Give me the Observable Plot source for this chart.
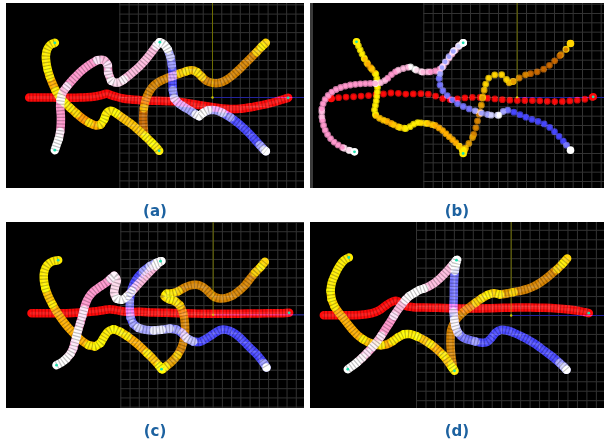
<!DOCTYPE html>
<html>
<head>
<meta charset="utf-8">
<script src="https://cdn.jsdelivr.net/npm/d3@7"></script>
<script src="https://cdn.jsdelivr.net/npm/@observablehq/plot@0.6"></script>
<style>
  html, body { margin: 0; padding: 0; background: #fff; }
  #fig { position: relative; width: 604px; height: 445px; overflow: hidden; }
  .panel { position: absolute; background: #000; box-sizing: content-box; }
  .panel svg { display: block; }
  .label { position: absolute; width: 120px; text-align: center; font: bold 15px "DejaVu Sans", sans-serif; line-height: 15px; color: #1d62a0; }
</style>
</head>
<body>
<div id="fig"></div>
<script>
// Trajectories in image-frame units (3 units per screen pixel), y pointing down.
// Each point is [x, y, t]; t is the highlight weight of the trail at that point.

const labels = ["(a)", "(b)", "(c)", "(d)"];

// ---- run (a)
const redA = [[68,282],[100,282],[140,282],[180,283],[220,282],[260,280],[285,275],[300,271],[320,277],[350,285],[400,290],[450,292],[500,293],[540,298],[580,305],[620,311],[660,316],[700,316],[740,310],[780,302],[810,294],[835,286],[845,283]];
const yellowA = [[145,118,1],[132,124,1],[122,138,1],[118,158,1],[120,180,1],[124,200,0.6],[130,220,0.3],[138,240,0.3],[148,262,0.5],[160,282,0.7],[175,298,0.4],[192,314,0.2],[210,330,0.1],[228,345,0.1],[248,358,0.2],[268,366,0.3],[283,363,0.6],[293,348,1],[300,330,1],[312,322,1],[330,330,0.6],[352,346,0.4],[375,362,0.4],[398,382,0.5],[418,400,0.7],[436,418,1],[450,432,1],[458,442,1]];
const pinkA = [[145,440,1],[150,425,1],[157,405,0.7],[161,385,0.3],[163,360,0.2],[163,335,0.2],[161,310,0.3],[162,290,0.6],[168,268,0.4],[182,248,0.3],[202,225,0.2],[225,202,0.2],[250,183,0.3],[272,170,0.4],[292,170,0.4],[304,185,0.3],[305,208,0.4],[314,232,0.8],[332,238,0.7],[352,228,0.5],[375,210,0.4],[398,190,0.4],[418,168,0.5],[436,145,0.6],[450,126,0.8],[460,116,1]];
const blueA = [[460,116,1],[472,122,0.9],[484,138,0.6],[492,160,0.3],[496,185,0.1],[498,210,0.1],[498,235,0.1],[499,260,0.2],[503,284,0.6],[515,298,0.6],[532,310,0.5],[552,322,0.4],[568,333,0.7],[578,338,1],[590,328,0.8],[605,320,0.5],[625,320,0.4],[648,328,0.2],[672,342,0.1],[696,360,0.1],[720,382,0.1],[742,405,0.1],[760,425,0.2],[772,438,0.6],[778,443,1]];
const orangeA = [[778,118,1],[765,130,0.6],[750,146,0.3],[732,164,0.2],[714,182,0.2],[696,200,0.2],[678,216,0.2],[658,230,0.2],[638,238,0.2],[618,238,0.2],[600,232,0.3],[586,220,0.4],[572,206,0.8],[558,200,0.7],[540,203,0.4],[520,210,0.3],[498,218,0.3],[476,226,0.3],[456,236,0.3],[440,248,0.3],[428,265,0.2],[418,288,0.2],[412,314,0.1],[410,340,0.1],[411,365,0.1],[413,390,0.1]];

// ---- run (b)
const redB = [[62,285],[80,283],[100,281],[125,280],[150,278],[175,276],[200,273],[225,271],[248,268],[268,270],[290,272],[318,271],[345,271],[370,276],[392,284],[412,288],[432,287],[455,284],[480,282],[510,282],[540,285],[570,288],[600,290],[630,291],[660,291],[690,292],[720,294],[750,294],[780,292],[810,289],[835,285],[848,280]];
const yellowB = [[138,115,1],[145,130,1],[153,148,0.9],[162,166,0.6],[172,182,0.3],[185,198,0.6],[196,212,0.9],[200,232,1],[201,255,1],[199,278,1],[196,300,1],[192,320,0.9],[196,336,0.6],[210,346,0.4],[230,354,0.3],[250,364,0.5],[268,372,0.8],[286,375,1],[302,368,1],[316,358,1],[332,358,0.8],[352,360,0.5],[374,366,0.3],[395,380,0.2],[412,396,0.2],[430,412,0.2],[446,428,0.5],[456,440,1],[458,450,1]];
const pinkB = [[132,445,1],[115,440,0.8],[96,432,0.3],[76,420,0.2],[60,405,0.2],[47,386,0.2],[39,365,0.3],[34,340,0.4],[34,316,0.3],[40,295,0.2],[52,277,0.2],[68,263,0.2],[88,253,0.2],[112,246,0.2],[140,242,0.2],[168,240,0.2],[195,240,0.5],[215,236,0.4],[232,224,0.3],[247,210,0.3],[264,200,0.4],[282,194,0.6],[300,190,1],[318,200,0.8],[337,206,0.4],[360,205,0.3],[383,200,0.3],[398,188,0.4],[410,172,0.4],[422,155,0.4],[436,138,0.5],[448,125,0.8],[458,118,1]];
const blueB = [[458,118,1],[444,128,0.8],[428,144,0.5],[413,163,0.4],[400,182,0.4],[390,203,0.4],[386,225,0.3],[389,246,0.3],[398,263,0.2],[412,278,0.3],[429,292,0.3],[448,304,0.3],[470,314,0.3],[494,322,0.4],[518,330,0.6],[542,335,0.8],[565,335,1],[578,324,0.6],[592,320,0.2],[610,326,0],[632,335,0],[656,345,0],[680,353,0],[704,363,0],[724,377,0],[740,393,0],[756,410,0],[768,425,0.3],[780,440,1]];
const orangeB = [[780,120,1],[766,138,0.3],[748,157,0.1],[728,176,0.1],[708,192,0.1],[688,202,0.1],[666,209,0.1],[645,214,0.2],[625,224,0.3],[608,234,0.6],[596,238,0.8],[588,228,1],[580,217,1],[568,212,1],[550,215,1],[536,222,1],[527,238,0.9],[521,260,0.7],[516,284,0.5],[512,308,0.4],[506,332,0.3],[500,356,0.3],[494,380,0.3],[486,402,0.4],[475,420,0.5],[465,434,0.7],[460,442,1]];

// ---- run (c)
const redC = [[75,272],[100,272],[140,272],[180,272],[220,270],[260,267],[290,263],[310,260],[330,263],[360,268],[400,268],[440,270],[480,271],[520,272],[560,273],[600,274],[640,274],[680,274],[720,273],[760,273],[800,272],[830,272],[848,271]];
const yellowC = [[155,113,1],[137,117,1],[122,128,1],[113,148,1],[112,172,1],[117,198,0.6],[126,222,0.4],[138,246,0.3],[152,270,0.3],[168,293,0.3],[186,316,0.2],[205,336,0.2],[225,354,0.3],[246,368,0.6],[266,372,0.8],[282,362,1],[293,343,1],[305,327,1],[322,320,0.8],[342,328,0.5],[362,341,0.3],[382,356,0.3],[402,373,0.3],[422,392,0.4],[442,412,0.6],[458,430,1],[465,440,1]];
const pinkC = [[150,428,1],[165,420,1],[180,408,0.8],[192,394,0.5],[200,378,0.3],[205,360,0.5],[210,342,0.8],[215,322,0.4],[221,302,0.3],[227,282,0.4],[232,262,0.3],[238,242,0.3],[248,222,0.3],[262,206,0.3],[280,193,0.3],[298,181,0.3],[312,169,0.5],[323,160,0.8],[331,172,0.8],[326,192,0.7],[323,212,0.8],[330,228,1],[346,232,0.9],[361,222,0.7],[376,207,0.6],[392,189,0.5],[410,169,0.5],[430,148,0.6],[448,130,0.8],[462,116,1]];
const blueC = [[465,116,1],[450,121,0.6],[430,131,0.2],[410,146,0.1],[393,165,0.1],[381,186,0.1],[373,210,0.1],[370,235,0.3],[370,260,0.3],[372,285,0.1],[380,304,0.2],[395,316,0.4],[418,322,0.5],[442,324,0.7],[465,322,0.4],[490,318,0.2],[510,321,0.1],[526,331,0.3],[541,347,0.5],[560,357,0.1],[580,358,0],[600,348,0],[620,335,0],[640,323,0],[660,322,0],[680,330,0],[700,345,0],[720,365,0],[740,385,0],[758,404,0],[772,422,0.3],[780,435,1]];
const orangeC = [[775,118,1],[762,134,0.6],[746,150,0.3],[730,170,0.2],[715,189,0.2],[698,205,0.2],[680,218,0.2],[660,226,0.2],[641,228,0.2],[625,224,0.2],[612,214,0.2],[599,201,0.2],[584,191,0.3],[568,187,0.3],[550,189,0.3],[533,196,0.3],[516,206,0.4],[498,212,0.8],[480,214,1],[474,222,1],[488,230,0.8],[506,236,0.4],[520,248,0.3],[529,268,0.2],[534,292,0.2],[536,320,0.3],[533,348,0.3],[526,374,0.3],[513,398,0.4],[495,418,0.5],[478,432,0.7],[468,440,1]];

// ---- run (d)
const redD = [[40,278],[70,278],[100,278],[130,278],[160,276],[185,272],[205,264],[222,252],[240,240],[256,235],[270,240],[285,250],[308,254],[340,255],[380,256],[420,257],[460,258],[500,258],[540,257],[580,256],[620,255],[660,255],[700,256],[740,258],[775,261],[805,265],[835,272]];
const yellowD = [[115,105,1],[100,114,1],[86,132,1],[74,155,1],[64,180,1],[60,205,0.7],[63,230,0.4],[72,252,0.3],[85,270,0.3],[98,287,0.3],[112,305,0.3],[126,322,0.3],[141,338,0.3],[157,350,0.4],[175,360,0.6],[193,366,0.4],[212,368,0.3],[230,365,0.3],[247,356,0.5],[263,344,0.8],[280,335,1],[300,335,0.9],[320,342,0.6],[340,352,0.4],[360,365,0.3],[380,381,0.3],[398,398,0.4],[413,418,0.6],[424,434,1],[432,445,1]];
const pinkD = [[112,440,1],[125,431,1],[140,419,0.7],[155,406,0.4],[170,391,0.3],[185,375,0.6],[199,358,0.4],[212,340,0.3],[225,320,0.3],[238,300,0.3],[250,280,0.4],[262,262,0.4],[274,246,0.5],[285,232,0.8],[296,221,1],[311,212,1],[326,203,1],[341,198,0.6],[356,191,0.4],[371,182,0.4],[386,170,0.4],[400,156,0.5],[414,141,0.5],[427,126,0.7],[438,113,1]];
const blueD = [[440,112,1],[436,125,0.7],[433,145,0.3],[431,170,0.2],[430,195,0.2],[430,220,0.2],[429,245,0.2],[429,268,0.4],[431,292,0.8],[435,312,0.6],[442,330,0.3],[456,344,0.2],[475,352,0.2],[495,357,0.1],[514,361,0.1],[530,358,0.1],[543,346,0.1],[555,331,0.1],[571,322,0.1],[590,324,0.1],[610,331,0.1],[630,340,0.1],[650,350,0.1],[670,362,0.1],[690,376,0.1],[710,391,0.1],[730,406,0.1],[747,421,0.2],[760,433,0.5],[768,442,1]];
const orangeD = [[770,108,1],[756,124,0.6],[740,140,0.3],[722,155,0.2],[705,169,0.2],[688,181,0.2],[669,192,0.2],[649,200,0.2],[629,205,0.3],[609,209,0.4],[589,213,0.6],[568,216,0.9],[550,212,1],[532,217,0.7],[514,227,0.4],[496,240,0.3],[477,254,0.3],[458,269,0.3],[442,285,0.3],[430,302,0.3],[422,322,0.2],[420,346,0.2],[420,370,0.2],[422,395,0.2],[425,418,0.3],[428,438,0.5]];

// Base and highlight colour of each trail.
const trailColors = {
  red:    ["#ff0a0a", "#ff0a0a"],
  orange: ["#c86800", "#ffd400"],
  yellow: ["#ff9800", "#ffee00"],
  pink:   ["#ff74bc", "#ffffff"],
  blue:   ["#4646ff", "#ffffff"]
};
const drawOrder = ["red", "orange", "yellow", "pink", "blue"];

// Screen layout of the four views (px) and the frame position of the floor grid.
const views = [
  {left: 6,   top: 3,   w: 298, h: 185, strip: 0, gx0: 340, cx: 618, cy: 282, dense: true,
   trails: {red: redA, orange: orangeA, yellow: yellowA, pink: pinkA, blue: blueA}},
  {left: 310, top: 3,   w: 294, h: 185, strip: 3, gx0: 340, cx: 620, cy: 282, dense: false,
   gap: {red: 7.5, orange: 7, yellow: 4.5, pink: 5, blue: 6.5},
   trails: {red: redB, orange: orangeB, yellow: yellowB, pink: pinkB, blue: blueB}},
  {left: 6,   top: 222, w: 298, h: 186, strip: 0, gx0: 343, cx: 620, cy: 277, dense: true,
   trails: {red: redC, orange: orangeC, yellow: yellowC, pink: pinkC, blue: blueC}},
  {left: 310, top: 222, w: 294, h: 186, strip: 0, gx0: 318, cx: 602, cy: 279, dense: true,
   trails: {red: redD, orange: orangeD, yellow: yellowD, pink: pinkD, blue: blueD}}
];
const labelTop = [204, 204, 424, 424];
const UNITS = 3; // frame units per screen pixel

function trailMarks(pts, [lo, hi], dense, gap) {
  const ramp = d3.interpolateRgb(lo, hi);
  const data = pts.map(([x, y, t = 0]) => ({x, y, c: ramp(Math.round(t * 4) / 4)}));
  // one series per trail; the colour changes along it
  const common = {x: "x", y: "y", z: () => "trail", curve: "catmull-rom", strokeLinejoin: "round"};
  if (dense) {
    return [
      Plot.line(data, {...common, stroke: d => d.c, strokeWidth: 8.5, strokeLinecap: "round", mixBlendMode: "screen"}),
      Plot.line(data, {...common, stroke: "#ffffff", strokeOpacity: 0.1, strokeWidth: 3, strokeLinecap: "round"}),
      Plot.line(data, {...common, stroke: "#000000", strokeOpacity: 0.24, strokeWidth: 8.5, strokeLinecap: "butt", strokeDasharray: "1.2 2.1"})
    ];
  }
  const ends = [data[0], data[data.length - 1]];
  return [
    Plot.line(data, {...common, stroke: d => d3.color(d.c).darker(0.7).formatHex(), strokeWidth: 6.8, strokeLinecap: "round", strokeDasharray: `0 ${gap}`, mixBlendMode: "screen"}),
    Plot.line(data, {...common, stroke: d => d.c, strokeWidth: 4.6, strokeLinecap: "round", strokeDasharray: `0 ${gap}`}),
    Plot.dot(ends, {x: "x", y: "y", r: 3.8, fill: d => d.c})
  ];
}

function drawView(v) {
  const W = v.w * UNITS, H = v.h * UNITS, x0 = v.strip * UNITS;
  const step = (v.cx - v.gx0) / 10;
  const gridX = d3.range(v.gx0, W + 0.5, step);
  const gridY = d3.range(v.cy - Math.floor(v.cy / step) * step, H + 0.5, step);
  const tr = v.trails;
  const markers = [
    tr.red[tr.red.length - 1],
    tr.yellow[0], tr.yellow[tr.yellow.length - 1],
    tr.pink[0], tr.pink[tr.pink.length - 1]
  ];
  const marks = [
    Plot.ruleX(gridX, {stroke: "#333333", strokeWidth: 1}),
    Plot.ruleY(gridY, {x1: v.gx0, x2: W, stroke: "#333333", strokeWidth: 1}),
    Plot.ruleX([v.cx], {y1: 0, y2: v.cy, stroke: "#6c6c00"}),
    Plot.ruleY([v.cy], {x1: v.cx, x2: W, stroke: "#23239c"}),
    Plot.dot([[v.cx, v.cy]], {r: 1.2, fill: "#c8c800"})
  ];
  for (const name of drawOrder) {
    marks.push(...trailMarks(tr[name], trailColors[name], v.dense, v.gap && v.gap[name]));
  }
  marks.push(Plot.dot(markers, {x: d => d[0], y: d => d[1], r: 1.4, fill: "#1de0b0"}));
  return Plot.plot({
    width: v.w - v.strip,
    height: v.h,
    margin: 0,
    x: {domain: [x0, W], axis: null},
    y: {domain: [0, H], reverse: true, axis: null},
    color: {type: "identity"},
    style: {background: "#000", overflow: "hidden"},
    marks
  });
}

const fig = document.getElementById("fig");
views.forEach((v, i) => {
  const box = document.createElement("div");
  box.className = "panel";
  box.style.left = v.left + "px";
  box.style.top = v.top + "px";
  box.style.width = (v.w - v.strip) + "px";
  box.style.height = v.h + "px";
  if (v.strip) box.style.borderLeft = `${v.strip}px solid #3a3a3a`;
  box.appendChild(drawView(v));
  fig.appendChild(box);

  const lab = document.createElement("div");
  lab.className = "label";
  lab.textContent = labels[i];
  lab.style.left = (v.left + v.w / 2 - 60) + "px";
  lab.style.top = labelTop[i] + "px";
  fig.appendChild(lab);
});
</script>
</body>
</html>
